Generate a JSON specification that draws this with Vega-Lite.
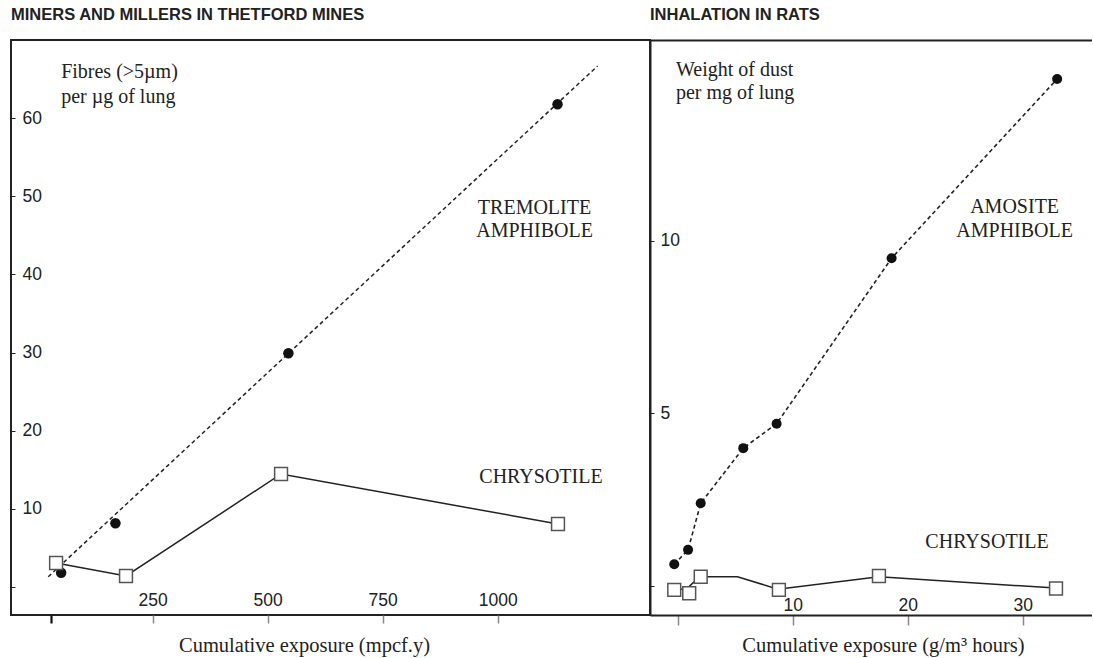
{
  "$schema": "https://vega.github.io/schema/vega-lite/v6.json",
  "background": "white",
  "padding": {"left": 9, "top": 5, "right": 0, "bottom": 0},
  "config": {
    "view": {"stroke": null},
    "text": {"font": "Liberation Serif", "fontSize": 20, "color": "#222", "baseline": "alphabetic"}
  },
  "datasets": {
    "tremolite": [{"x": 51, "y": 1.83}, {"x": 169, "y": 8.15}, {"x": 545, "y": 29.9}, {"x": 1130, "y": 61.75}],
    "tremolite_fit": [{"x": 23, "y": 1.32}, {"x": 1217, "y": 66.65}],
    "chrysotile_left": [{"x": 40, "y": 3.07}, {"x": 192, "y": 1.41}, {"x": 529, "y": 14.46}, {"x": 1131, "y": 8.06}],
    "notes_left": [{"x": 51, "y": 65.1, "label": "Fibres (>5µm)"}, {"x": 51, "y": 61.9, "label": "per µg of lung"}],
    "names_left": [{"x": 1080, "y": 47.78, "label": "TREMOLITE"}, {"x": 1080, "y": 44.77, "label": "AMPHIBOLE"}, {"x": 1094, "y": 13.3, "label": "CHRYSOTILE"}],
    "amosite": [{"x": -0.3, "y": 0.62}, {"x": 0.9, "y": 1.04}, {"x": 2.0, "y": 2.39}, {"x": 5.7, "y": 3.99}, {"x": 8.6, "y": 4.7}, {"x": 18.6, "y": 9.5}, {"x": 33.0, "y": 14.7}],
    "chrysotile_right_pts": [{"x": -0.3, "y": -0.12}, {"x": 1.0, "y": -0.22}, {"x": 2.0, "y": 0.26}, {"x": 8.8, "y": -0.12}, {"x": 17.5, "y": 0.28}, {"x": 32.9, "y": -0.08}],
    "chrysotile_right_line": [{"x": -0.15, "y": -0.1}, {"x": 0.75, "y": -0.1}, {"x": 1.9, "y": 0.26}, {"x": 5.2, "y": 0.26}, {"x": 8.7, "y": -0.1}, {"x": 17.5, "y": 0.26}, {"x": 32.9, "y": -0.07}],
    "notes_right": [{"x": -0.15, "y": 14.79, "label": "Weight of dust"}, {"x": -0.15, "y": 14.12, "label": "per mg of lung"}],
    "names_right": [{"x": 29.3, "y": 10.81, "label": "AMOSITE"}, {"x": 29.3, "y": 10.12, "label": "AMPHIBOLE"}, {"x": 26.9, "y": 1.085, "label": "CHRYSOTILE"}]
  },
  "hconcat": [
    {
      "title": {"text": "MINERS AND MILLERS IN THETFORD MINES", "anchor": "start", "frame": "group", "font": "Liberation Sans", "fontSize": 16.5, "fontWeight": "bold", "color": "#222", "baseline": "alphabetic", "offset": 4},
      "width": 639,
      "height": 575,
      "view": {"stroke": "#222", "strokeWidth": 2},
      "encoding": {
        "x": {"field": "x", "type": "quantitative", "scale": {"domain": [-58, 1331], "nice": false, "zero": false},
          "axis": {"orient": "bottom", "values": [29, 250, 500, 750, 1000], "format": "d", "labelExpr": "datum.value < 100 ? '' : datum.label",
            "domain": false, "grid": false, "tickSize": 8,
            "tickColor": {"condition": {"test": "datum.value < 100", "value": "#111"}, "value": "#888"},
            "tickWidth": {"condition": {"test": "datum.value < 100", "value": 2.2}, "value": 1.5},
            "labelBaseline": "alphabetic", "labelPadding": -18, "labelFont": "Liberation Sans", "labelFontSize": 17.5, "labelColor": "#222",
            "labelFlush": false, "labelOverlap": false, "labelBound": false,
            "title": "Cumulative exposure (mpcf.y)", "titleFont": "Liberation Serif", "titleFontSize": 20.5, "titleFontWeight": "normal", "titleColor": "#222",
            "titleX": 293, "titleY": 36, "titleBaseline": "alphabetic", "titleAlign": "center", "titleAnchor": null}},
        "y": {"field": "y", "type": "quantitative", "scale": {"domain": [-3.58, 69.98], "nice": false, "zero": false},
          "axis": {"orient": "left", "values": [0, 10, 20, 30, 40, 50, 60], "labelExpr": "datum.value == 0 ? '' : datum.label",
            "domain": false, "grid": false, "tickSize": -4, "tickColor": "#222", "tickWidth": 1,
            "labelAlign": "left", "labelBaseline": "middle", "labelPadding": -7, "labelFont": "Liberation Sans", "labelFontSize": 17.5, "labelColor": "#222",
            "labelFlush": false, "labelOverlap": false, "labelBound": false, "title": null}}
      },
      "layer": [
        {
          "data": {"name": "tremolite_fit"},
          "mark": {"type": "line", "stroke": "#222", "strokeWidth": 1.5, "strokeDash": [4, 3]}
        },
        {
          "data": {"name": "tremolite"},
          "mark": {"type": "point", "shape": "circle", "filled": true, "color": "#111", "size": 110, "opacity": 1}
        },
        {
          "data": {"name": "chrysotile_left"},
          "mark": {"type": "line", "stroke": "#222", "strokeWidth": 1.5}
        },
        {
          "data": {"name": "chrysotile_left"},
          "mark": {"type": "point", "shape": "square", "filled": false, "fill": "white", "fillOpacity": 1, "stroke": "#555", "strokeWidth": 1.5, "size": 165, "opacity": 1}
        },
        {
          "data": {"name": "notes_left"},
          "mark": {"type": "text", "align": "left"},
          "encoding": {"text": {"field": "label"}}
        },
        {
          "data": {"name": "names_left"},
          "mark": {"type": "text", "align": "center"},
          "encoding": {"text": {"field": "label"}}
        }
      ]
    },
    {
      "title": {"text": "INHALATION IN RATS", "anchor": "start", "frame": "group", "font": "Liberation Sans", "fontSize": 16.5, "fontWeight": "bold", "color": "#222", "baseline": "alphabetic", "offset": 4},
      "width": 442,
      "height": 575,
      "view": {"stroke": null},
      "resolve": {"axis": {"x": "independent"}},
      "encoding": {
        "y": {"field": "y", "type": "quantitative", "scale": {"domain": [-0.85, 15.83], "nice": false, "zero": false},
          "axis": {"orient": "left", "values": [0, 5, 10], "labelExpr": "datum.value == 0 ? '' : datum.label",
            "domain": true, "domainColor": "#222", "domainWidth": 2, "grid": false, "tickSize": -4, "tickColor": "#222", "tickWidth": 1,
            "labelAlign": "left", "labelBaseline": "middle", "labelPadding": -6, "labelFont": "Liberation Sans", "labelFontSize": 17.5, "labelColor": "#222",
            "labelFlush": false, "labelOverlap": false, "labelBound": false, "title": null}}
      },
      "layer": [
        {
          "data": {"name": "amosite"},
          "mark": {"type": "line", "stroke": "#222", "strokeWidth": 1.6, "strokeDash": [4, 3]},
          "encoding": {
            "x": {"field": "x", "type": "quantitative", "scale": {"domain": [-2.41, 36.03], "nice": false, "zero": false},
              "axis": {"orient": "bottom", "values": [0, 10, 20, 30], "labelExpr": "datum.value == 0 ? '' : datum.label",
                "domain": true, "domainColor": "#222", "domainWidth": 2, "grid": false, "tickSize": 10, "tickColor": "#888", "tickWidth": 1.5,
                "labelBaseline": "alphabetic", "labelPadding": -14.3, "labelFont": "Liberation Sans", "labelFontSize": 17.5, "labelColor": "#222",
                "labelFlush": false, "labelOverlap": false, "labelBound": false,
                "title": "Cumulative exposure (g/m³ hours)", "titleFont": "Liberation Serif", "titleFontSize": 20.5, "titleFontWeight": "normal", "titleColor": "#222",
                "titleX": 233, "titleY": 36, "titleBaseline": "alphabetic", "titleAlign": "center", "titleAnchor": null}}
          }
        },
        {
          "data": {"name": "amosite"},
          "mark": {"type": "point", "shape": "circle", "filled": true, "color": "#111", "size": 100, "opacity": 1},
          "encoding": {
            "x": {"field": "x", "type": "quantitative", "scale": {"domain": [-2.41, 36.03], "nice": false, "zero": false}, "axis": null}
          }
        },
        {
          "data": {"name": "chrysotile_right_line"},
          "mark": {"type": "line", "stroke": "#222", "strokeWidth": 1.5},
          "encoding": {
            "x": {"field": "x", "type": "quantitative", "scale": {"domain": [-2.41, 36.03], "nice": false, "zero": false}, "axis": null}
          }
        },
        {
          "data": {"name": "chrysotile_right_pts"},
          "mark": {"type": "point", "shape": "square", "filled": false, "fill": "white", "fillOpacity": 1, "stroke": "#555", "strokeWidth": 1.5, "size": 165, "opacity": 1},
          "encoding": {
            "x": {"field": "x", "type": "quantitative", "scale": {"domain": [-2.41, 36.03], "nice": false, "zero": false}, "axis": null}
          }
        },
        {
          "data": {"name": "notes_right"},
          "mark": {"type": "text", "align": "left"},
          "encoding": {
            "x": {"field": "x", "type": "quantitative", "scale": {"domain": [-2.41, 36.03], "nice": false, "zero": false}, "axis": null},
            "text": {"field": "label"}
          }
        },
        {
          "data": {"name": "names_right"},
          "mark": {"type": "text", "align": "center"},
          "encoding": {
            "x": {"field": "x", "type": "quantitative", "scale": {"domain": [-2.41, 36.03], "nice": false, "zero": false},
              "axis": {"orient": "top", "domain": true, "domainColor": "#222", "domainWidth": 2, "ticks": false, "labels": false, "grid": false, "title": null}},
            "text": {"field": "label"}
          }
        }
      ]
    }
  ],
  "spacing": 0,
  "bounds": "flush"
}
